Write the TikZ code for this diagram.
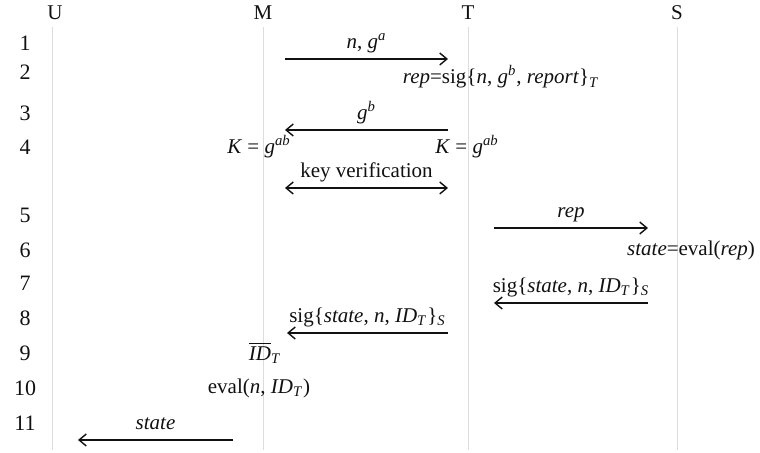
\documentclass[tikz,border=0pt]{standalone}
\usepackage{fontspec}
\setmainfont{Liberation Serif}
\usepackage{tikz}
\usetikzlibrary{arrows.meta}
\definecolor{ink}{HTML}{111111}
\definecolor{lifegray}{HTML}{DCDCDC}
\newcommand{\vi}[1]{\textit{#1}}
\newcommand{\sps}[1]{\textsuperscript{\vi{#1}}}
\newcommand{\sbs}[1]{\textsubscript{\vi{#1}}}

\begin{document}
\begin{tikzpicture}[
  x=0.5pt,y=-0.5pt,
  font=\fontsize{10.5}{12}\selectfont,
  party/.style={inner sep=1pt,text=ink},
  num/.style={inner sep=1pt,text=ink,font=\fontsize{11}{12}\selectfont},
  lbl/.style={inner sep=1pt,text=ink},
  tag/.style={above=1.4pt,inner sep=1pt,text depth=0.25em,text=ink},
  life/.style={draw=lifegray,line width=0.5pt},
  msg/.style={-{Straight Barb[length=3.6pt,width=6pt]},line width=0.7pt,draw=ink},
  dmsg/.style={{Straight Barb[length=3.6pt,width=6pt]}-{Straight Barb[length=3.6pt,width=6pt]},line width=0.7pt,draw=ink}
]
\useasboundingbox (0,0) rectangle (760,453);

% Parties and lifelines
\node[party] (hU) at (55,13) {U};
\node[party] (hM) at (263,13) {M};
\node[party] (hT) at (468,13) {T};
\node[party] (hS) at (677,13) {S};
\foreach \p/\x in {U/52,M/263,T/468,S/677} {
  \coordinate (top\p) at (\x,27);
  \coordinate (bot\p) at (\x,450);
  \draw[life] (top\p) -- (bot\p);
}

% Step numbers
\foreach \i/\y in {1/43,2/72,3/113,4/147,5/215,6/250,7/283,8/318,9/353,10/388,11/423}
  \node[num] (r\i) at (25,\y) {\i};

% Key agreement between M and T
\coordinate (m1a) at (285,59);  \coordinate (m1b) at (448,59);
\draw[msg] (m1a) -- node[tag]{\vi{n}, \vi{g}\sps{a}} (m1b);
\node[lbl] (rep) at (501,77) {\vi{rep}=sig\{\vi{n}, \vi{g}\sps{b}, \vi{report}\}\sbs{T}};
\coordinate (m3a) at (448,130); \coordinate (m3b) at (285,130);
\draw[msg] (m3a) -- node[tag]{\vi{g}\sps{b}} (m3b);
\node[lbl] (kM) at (259,147) {\vi{K} = \vi{g}\sps{ab}};
\node[lbl] (kT) at (467,147) {\vi{K} = \vi{g}\sps{ab}};
\coordinate (kva) at (285,188); \coordinate (kvb) at (448,188);
\draw[dmsg] (kva) -- node[tag]{key verification} (kvb);

% Evaluation by S
\coordinate (m5a) at (494,228); \coordinate (m5b) at (648,228);
\draw[msg] (m5a) -- node[tag]{\vi{rep}} (m5b);
\node[lbl] (st) at (691,250) {\vi{state}=eval(\vi{rep})};
\coordinate (m7a) at (648,303); \coordinate (m7b) at (494,303);
\draw[msg] (m7a) -- node[tag]{sig\{\vi{state}, \vi{n}, \vi{ID}\sbs{T}\}\sbs{S}} (m7b);

% Result back to M and U
\coordinate (m8a) at (448,333); \coordinate (m8b) at (287,333);
\draw[msg] (m8a) -- node[tag]{sig\{\vi{state}, \vi{n}, \vi{ID}\sbs{T}\}\sbs{S}} (m8b);
\node[lbl] (idT) at (265,353) {$\overline{\hbox{\vi{ID}}}$\sbs{T}};
\node[lbl] (ev) at (259,388) {eval(\vi{n}, \vi{ID}\sbs{T})};
\coordinate (m11a) at (233,440); \coordinate (m11b) at (78,440);
\draw[msg] (m11a) -- node[tag]{\vi{state}} (m11b);
\end{tikzpicture}
\end{document}
